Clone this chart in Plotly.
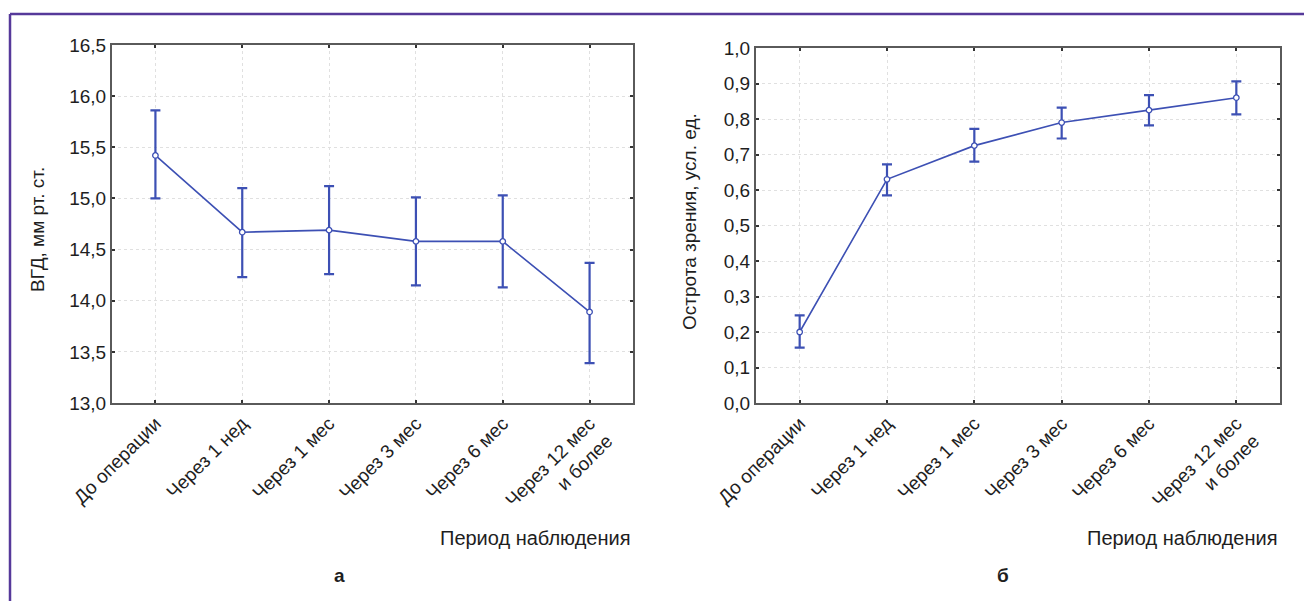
import plotly.graph_objects as go

categories = ["До операции", "Через 1 нед", "Через 1 мес", "Через 3 мес", "Через 6 мес", "Через 12 мес<br>и более"]

# Panel а: ВГД
iop_mean = [15.42, 14.67, 14.69, 14.58, 14.58, 13.89]
iop_upper = [15.86, 15.10, 15.12, 15.01, 15.03, 14.37]
iop_lower = [15.00, 14.23, 14.26, 14.15, 14.13, 13.39]

# Panel б: острота зрения
va_mean = [0.20, 0.63, 0.725, 0.79, 0.825, 0.86]
va_upper = [0.247, 0.672, 0.772, 0.832, 0.867, 0.906]
va_lower = [0.156, 0.585, 0.680, 0.745, 0.782, 0.813]

iop_ticks = [13.0, 13.5, 14.0, 14.5, 15.0, 15.5, 16.0, 16.5]
iop_ticktext = ["13,0", "13,5", "14,0", "14,5", "15,0", "15,5", "16,0", "16,5"]
va_ticks = [0.0, 0.1, 0.2, 0.3, 0.4, 0.5, 0.6, 0.7, 0.8, 0.9, 1.0]
va_ticktext = ["0,0", "0,1", "0,2", "0,3", "0,4", "0,5", "0,6", "0,7", "0,8", "0,9", "1,0"]

W, H = 1304, 601
BLUE = "#3d50b4"
FONT = "Liberation Sans, Arial, sans-serif"
TXT = "#1e1e1e"

def px(x):
    return x / W

def py(y):
    return 1 - y / H

fig = go.Figure()

def add_panel(mean, upper, lower, xa, ya):
    fig.add_trace(go.Scatter(
        x=list(range(len(categories))), y=mean,
        mode="lines+markers",
        line=dict(color=BLUE, width=1.6),
        marker=dict(symbol="circle", size=5.5, color="white", line=dict(color=BLUE, width=1.3)),
        error_y=dict(type="data", symmetric=False,
                     array=[u - m for u, m in zip(upper, mean)],
                     arrayminus=[m - l for m, l in zip(mean, lower)],
                     color=BLUE, thickness=2.2, width=5),
        xaxis=xa, yaxis=ya, showlegend=False, cliponaxis=False,
    ))

add_panel(iop_mean, iop_upper, iop_lower, "x", "y")
add_panel(va_mean, va_upper, va_lower, "x2", "y2")

common_x = dict(
    tickmode="array", tickvals=list(range(len(categories))), ticktext=categories,
    range=[-0.5, 5.5], tickangle=-45, automargin=False,
    showline=True, linecolor="#5a5a5a", linewidth=2, mirror="allticks",
    ticks="inside", ticklen=3, tickcolor="#333", tickwidth=1.5,
    showgrid=True, gridcolor="#e0e0e0", griddash="dot", gridwidth=1,
    zeroline=False, tickfont=dict(family=FONT, size=19, color=TXT),
)
common_y = dict(
    showline=True, linecolor="#5a5a5a", linewidth=2, mirror="allticks",
    ticks="inside", ticklen=3, tickcolor="#333", tickwidth=1.5, automargin=False,
    showgrid=True, gridcolor="#e0e0e0", griddash="dot", gridwidth=1,
    zeroline=False, tickfont=dict(family=FONT, size=19, color=TXT),
)

fig.update_layout(
    width=W, height=H,
    margin=dict(l=0, r=0, t=0, b=0, pad=0),
    paper_bgcolor="white", plot_bgcolor="white",
    font=dict(family=FONT, color=TXT),
    hovermode=False,
    xaxis=dict(domain=[px(112), px(633)], anchor="y", **common_x),
    yaxis=dict(domain=[py(403), py(45)], anchor="x", range=[13.0, 16.5],
               tickmode="array", tickvals=iop_ticks, ticktext=iop_ticktext, **common_y),
    xaxis2=dict(domain=[px(756), px(1280)], anchor="y2", **common_x),
    yaxis2=dict(domain=[py(403), py(48)], anchor="x2", range=[0.0, 1.0],
                tickmode="array", tickvals=va_ticks, ticktext=va_ticktext, **common_y),
)

annotations = [
    dict(text="ВГД, мм рт. ст.", x=px(37), y=py(230)),
    dict(text="Острота зрения, усл. ед.", x=px(689), y=py(222)),
]
for a in annotations:
    fig.add_annotation(text=a["text"], x=a["x"], y=a["y"], xref="paper", yref="paper",
                       textangle=-90, showarrow=False,
                       xanchor="center", yanchor="middle",
                       font=dict(family=FONT, size=19, color=TXT))

for xr in (633, 1280):
    fig.add_annotation(text="Период наблюдения", x=px(xr), y=py(538), xref="paper", yref="paper",
                       showarrow=False, xanchor="right", yanchor="middle",
                       font=dict(family=FONT, size=20, color=TXT))
fig.add_annotation(text="<b>а</b>", x=px(339), y=py(575), xref="paper", yref="paper",
                   showarrow=False, xanchor="center", yanchor="middle",
                   font=dict(family=FONT, size=19, color=TXT))
fig.add_annotation(text="<b>б</b>", x=px(1003), y=py(575), xref="paper", yref="paper",
                   showarrow=False, xanchor="center", yanchor="middle",
                   font=dict(family=FONT, size=19, color=TXT))

PURPLE = "#56399a"
fig.add_shape(type="line", xref="paper", yref="paper", x0=px(10), y0=py(14), x1=1, y1=py(14),
              line=dict(color=PURPLE, width=2.5))
fig.add_shape(type="line", xref="paper", yref="paper", x0=px(10), y0=py(14), x1=px(10), y1=0,
              line=dict(color=PURPLE, width=2.5))

fig.write_html("out.html",
               config={"displayModeBar": False},
               post_script="document.body.style.margin='0px';document.body.style.overflow='hidden';")
